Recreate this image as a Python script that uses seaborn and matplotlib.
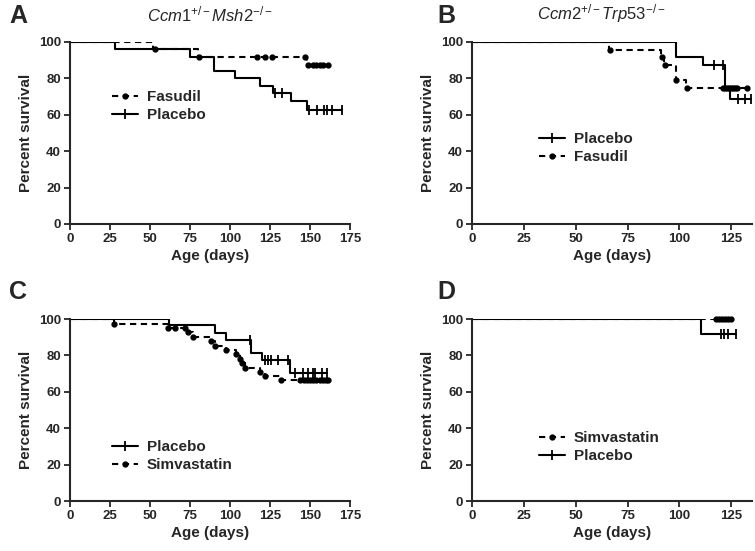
import numpy as np
import matplotlib
matplotlib.use("Agg")
import matplotlib.pyplot as plt
from matplotlib.lines import Line2D
import seaborn as sns

# ---- data (days, percent survival) ----
# Panel A: Ccm1+/-Msh2-/-
a_placebo_days = [28, 75, 90, 103, 119, 127, 138, 148]
a_placebo_surv = [96, 92, 84, 80, 76, 72, 67.5, 62.7]
a_placebo_end = 170
a_placebo_censor = [128.4, 132.6, 149.5, 154.6, 158.7, 160.8, 164, 170]

a_fasudil_days = [52, 80, 148]
a_fasudil_surv = [96, 92, 87.4]
a_fasudil_end = 161
a_fasudil_dots = [53, 80.5, 117, 121.6, 126.4, 147, 148.5, 151.8, 153.9, 156, 158.1, 161]

# Panel B: Ccm2+/-Trp53-/-
b_placebo_days = [98.3, 111.2, 122.2, 124.2]
b_placebo_surv = [91.7, 87.5, 75, 68.75]
b_placebo_end = 134.7
b_placebo_censor = [116.9, 120.9, 128.2, 131.4, 134.7]

b_fasudil_days = [66, 91, 92.5, 98.3, 103.2]
b_fasudil_surv = [95.8, 91.7, 87.5, 79.2, 75]
b_fasudil_end = 132.7
b_fasudil_dots = [66.3, 91.5, 93.2, 98.5, 103.8, 121, 122, 123, 124, 125, 126, 127, 128, 132.7]

# Panel C
c_placebo_days = [61.8, 90.6, 97.3, 113, 120, 137.4]
c_placebo_surv = [96.5, 92.5, 88.7, 81.2, 77.2, 70.4]
c_placebo_end = 160.4
c_placebo_censor = [112.3, 121.7, 123.8, 125.9, 130.1, 136.3, 140.5, 145.7,
                    148.9, 152, 153.1, 157.3, 160.4]

c_simva_days = [27.8, 61.2, 73.7, 76.8, 88.3, 90.4, 97.7, 104.0, 106.1, 107.2,
                109.3, 118.6, 121.7, 132.1]
c_simva_surv = [97.4, 95.0, 92.6, 90.1, 87.7, 85.3, 83.0, 80.5, 78.0, 75.6,
                73.2, 71.0, 68.8, 66.6]
c_simva_end = 161.4
c_simva_dots = c_simva_days + [65.4, 71.6, 143.7, 146, 148, 150, 152, 154, 156,
                               158, 160, 161.4]

# Panel D
d_placebo_days = [110.4]
d_placebo_surv = [91.7]
d_placebo_end = 127.4
d_placebo_censor = [120, 121.7, 123.3, 127.4]

d_simva_days = []
d_simva_surv = []
d_simva_end = 124.9
d_simva_dots = [117.6, 119, 120.5, 122, 123.5, 124.9]

sns.set_style("ticks")
plt.rcParams['font.family'] = ['Liberation Sans', 'DejaVu Sans']
plt.rcParams['mathtext.fontset'] = 'custom'
plt.rcParams['mathtext.it'] = 'Liberation Sans:italic'
plt.rcParams['mathtext.rm'] = 'Liberation Sans'

DASH = (3.0, 2.2)


def surv_at(days, surv, t):
    # value of the step curve just after time t
    idx = np.searchsorted(np.array(days, dtype=float), t, side='right')
    vals = [100] + list(surv)
    return vals[idx]


def km_curve(ax, days, surv, end, marks, dashed, mark_style):
    xs = [0] + list(days) + [end]
    ys = [100] + list(surv) + [surv[-1] if surv else 100]
    line_kw = dict(dashes=DASH) if dashed else {}
    sns.lineplot(x=xs, y=ys, drawstyle='steps-post', color='black',
                 linewidth=1.5, ax=ax, sort=False, estimator=None, **line_kw)
    my = [surv_at(days, surv, t) for t in marks]
    if mark_style == 'tick':
        ax.plot(marks, my, linestyle='none', marker='|', markersize=7,
                markeredgewidth=1.3, color='black', clip_on=False)
    else:
        ax.plot(marks, my, linestyle='none', marker='o', markersize=3.5,
                color='black', clip_on=False)


def style_axes(ax, xmax):
    ax.set_xlim(0, xmax)
    ax.set_ylim(0, 100)
    ax.set_xticks([0, 25, 50, 75, 100, 125, 150, 175] if xmax > 150
                  else [0, 25, 50, 75, 100, 125])
    ax.set_yticks([0, 20, 40, 60, 80, 100])
    for s in ['top', 'right']:
        ax.spines[s].set_visible(False)
    for s in ['left', 'bottom']:
        ax.spines[s].set_linewidth(1.5)
    ax.tick_params(width=1.3, length=4, labelsize=9.5, pad=2.5)
    for lab in ax.get_xticklabels() + ax.get_yticklabels():
        lab.set_fontweight('bold')
    ax.set_xlabel('Age (days)', fontsize=11, fontweight='bold', labelpad=3)
    ax.set_ylabel('Percent survival', fontsize=11, fontweight='bold', labelpad=4)


def add_legend(ax, handles, labels, anchor):
    ax.legend(handles, labels, frameon=False, loc='upper left',
              bbox_to_anchor=anchor, handlelength=1.7, handletextpad=0.6,
              prop={'weight': 'bold', 'size': 11}, labelspacing=0.25)


h_placebo = Line2D([], [], color='black', linewidth=1.5, marker='|',
                   markersize=7, markeredgewidth=1.3)
h_dot = Line2D([], [], color='black', linewidth=1.5, dashes=DASH,
               marker='o', markersize=3.5)

fig = plt.figure(figsize=(7.55, 5.51), dpi=100)
W, H = 755, 551
axA = fig.add_axes([70 / W, 1 - 224 / H, 280 / W, 182 / H])
axB = fig.add_axes([472 / W, 1 - 224 / H, 280 / W, 182 / H])
axC = fig.add_axes([70 / W, 1 - 501 / H, 280 / W, 182 / H])
axD = fig.add_axes([472 / W, 1 - 501 / H, 280 / W, 182 / H])

# A
km_curve(axA, a_fasudil_days, a_fasudil_surv, a_fasudil_end, a_fasudil_dots, True, 'dot')
km_curve(axA, a_placebo_days, a_placebo_surv, a_placebo_end, a_placebo_censor, False, 'tick')
style_axes(axA, 175)
add_legend(axA, [h_dot, h_placebo], ['Fasudil', 'Placebo'], (0.1, 0.81))

# B
km_curve(axB, b_placebo_days, b_placebo_surv, b_placebo_end, b_placebo_censor, False, 'tick')
km_curve(axB, b_fasudil_days, b_fasudil_surv, b_fasudil_end, b_fasudil_dots, True, 'dot')
style_axes(axB, 135)
add_legend(axB, [h_placebo, h_dot], ['Placebo', 'Fasudil'], (0.19, 0.58))

# C
km_curve(axC, c_placebo_days, c_placebo_surv, c_placebo_end, c_placebo_censor, False, 'tick')
km_curve(axC, c_simva_days, c_simva_surv, c_simva_end, c_simva_dots, True, 'dot')
style_axes(axC, 175)
add_legend(axC, [h_placebo, h_dot], ['Placebo', 'Simvastatin'], (0.1, 0.41))

# D
km_curve(axD, d_placebo_days, d_placebo_surv, d_placebo_end, d_placebo_censor, False, 'tick')
km_curve(axD, d_simva_days, d_simva_surv, d_simva_end, d_simva_dots, True, 'dot')
style_axes(axD, 135)
add_legend(axD, [h_dot, h_placebo], ['Simvastatin', 'Placebo'], (0.19, 0.46))

# panel letters and titles
for letter, x, y in [('A', 18, 16), ('B', 446, 16), ('C', 18, 292), ('D', 446, 292)]:
    fig.text(x / W, 1 - y / H, letter, fontsize=18, fontweight='bold',
             ha='center', va='center')
fig.text(210 / W, 1 - 14 / H, r'$\mathit{Ccm1}^{+/-}\mathit{Msh2}^{-/-}$',
         fontsize=12, ha='center', va='center')
fig.text(601 / W, 1 - 14 / H, r'$\mathit{Ccm2}^{+/-}\mathit{Trp53}^{-/-}$',
         fontsize=12, ha='center', va='center')

fig.savefig('out.png', dpi=100)
